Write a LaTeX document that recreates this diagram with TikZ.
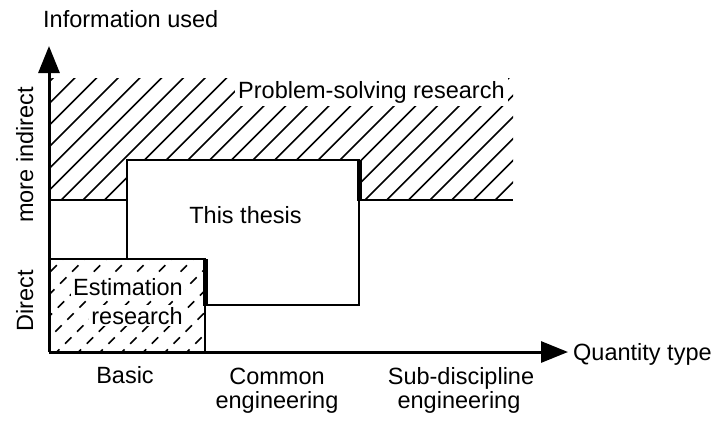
\documentclass[tikz,border=0pt]{standalone}
\usepackage{fontspec}
\setmainfont{Liberation Sans}
\usetikzlibrary{arrows.meta}
\begin{document}
\begin{tikzpicture}[x=1pt,y=-1pt,
  lbl/.style={font=\fontsize{23.5}{28}\selectfont, inner sep=0pt},
  hatchline/.style={line width=1.6pt},
  bord/.style={line width=2.8pt, line join=miter},
  axis/.style={line width=3pt, -{Triangle[length=27pt,width=21pt]}}]
\useasboundingbox (0,0) rectangle (717,421);
% named points
\coordinate (O) at (49,352);
\coordinate (xend) at (568,352);
\coordinate (yend) at (49,46);
% hatched region: problem-solving research
\begin{scope}
\clip (49,78) -- (513,78) -- (513,200) -- (359,200) -- (359,160) -- (127,160) -- (127,200) -- (49,200) -- cycle;
\foreach \k in {5,...,34}{
  \pgfmathsetmacro\c{0.8+21.7*\k}
  \draw[hatchline] (\c-500,500) -- (\c+100,-100);
}
\end{scope}
% hatched region: estimation research (dashed hatch)
\begin{scope}
\clip (49,259) rectangle (205,352);
\foreach \k in {-2,...,12}{
  \pgfmathsetmacro\c{322+21.7*\k}
  \draw[hatchline, dash pattern=on 9pt off 8pt] (\c-500,500) -- (\c+100,-100);
}
\end{scope}
% borders
\draw[line width=2.5pt] (49,200) -- (127,200);
\draw[line width=2.5pt] (359,200) -- (513,200);
\draw[bord] (127,259) -- (127,160) -- (359,160) -- (359,305) -- (205,305);
\draw[line width=5pt] (359,160) -- (359,201);
\draw[bord] (49,259) -- (205,259) -- (205,352);
\draw[line width=5pt] (205,259) -- (205,306);
% axes
\draw[axis] (O) -- (xend);
\draw[axis] (O) -- (yend);
% labels
\node[lbl, anchor=base west] (info) at (43,27) {Information used};
\node[lbl, anchor=base west, fill=white, inner sep=3pt] (prob) at (235,98) {Problem-solving research};
\node[lbl, anchor=base] (thesis) at (245.5,223) {This thesis};
\node[lbl, anchor=base east, fill=white, inner sep=2pt] (est1) at (185,295) {Estimation};
\node[lbl, anchor=base east, fill=white, inner sep=2pt] (est2) at (185,324) {research};
\node[lbl, anchor=base west] (qt) at (573,360) {Quantity type};
\node[lbl, anchor=base] (basic) at (125,383) {Basic};
\node[lbl, anchor=base] (common) at (277,384) {Common};
\node[lbl, anchor=base] (eng1) at (277,408) {engineering};
\node[lbl, anchor=base] (sub) at (461,384) {Sub-discipline};
\node[lbl, anchor=base] (eng2) at (459,408) {engineering};
\node[lbl, anchor=base, rotate=90] (mi) at (33,155) {more indirect};
\node[lbl, anchor=base, rotate=90] (dir) at (33,301) {Direct};
\end{tikzpicture}
\end{document}
